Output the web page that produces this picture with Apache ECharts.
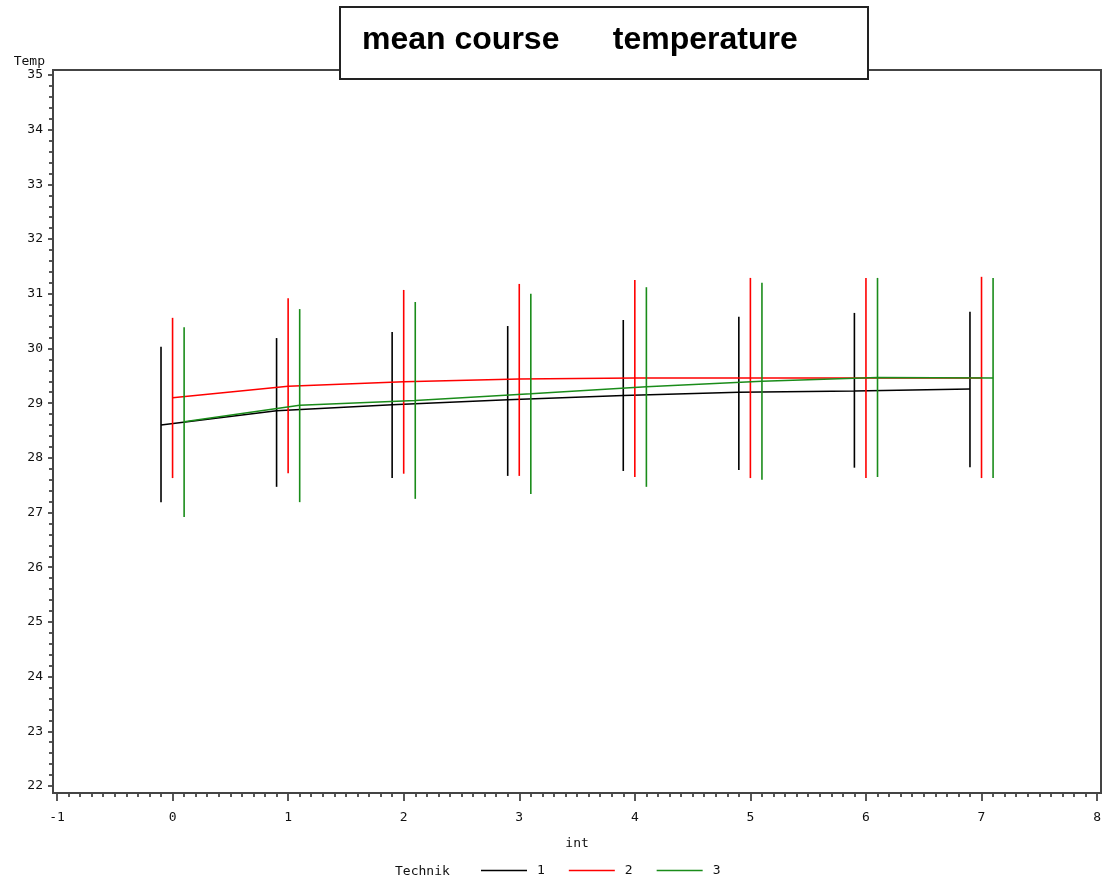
<!DOCTYPE html>
<html><head><meta charset="utf-8">
<script src="https://cdn.jsdelivr.net/npm/echarts@6/dist/echarts.min.js"></script>
<style>html,body{margin:0;padding:0;background:#fff}#c{width:1104px;height:884px}</style>
</head><body><div id="c"></div>
<script>
const intervals = [0, 1, 2, 3, 4, 5, 6, 7];
const techNames = ['1', '2', '3'];
const mean1 = [28.60, 28.86, 28.97, 29.06, 29.14, 29.20, 29.22, 29.26];
const high1 = [30.03, 30.19, 30.30, 30.41, 30.52, 30.58, 30.65, 30.67];
const low1  = [27.19, 27.47, 27.63, 27.67, 27.76, 27.78, 27.82, 27.83];
const mean2 = [29.10, 29.31, 29.39, 29.44, 29.46, 29.46, 29.46, 29.46];
const high2 = [30.56, 30.92, 31.07, 31.18, 31.25, 31.29, 31.29, 31.31];
const low2  = [27.63, 27.72, 27.71, 27.67, 27.65, 27.63, 27.63, 27.63];
const mean3 = [28.66, 28.96, 29.05, 29.17, 29.30, 29.40, 29.47, 29.46];
const high3 = [30.39, 30.72, 30.85, 31.00, 31.12, 31.20, 31.29, 31.29];
const low3  = [26.92, 27.19, 27.25, 27.34, 27.47, 27.60, 27.65, 27.63];
const yTicks = [22,23,24,25,26,27,28,29,30,31,32,33,34,35];
const xTicks = [-1,0,1,2,3,4,5,6,7,8];

const colors = ['#000000', '#ff0000', '#1a8c1a'];
const shifts = [-0.1, 0, 0.1];
const means = [mean1, mean2, mean3];
const highs = [high1, high2, high3];
const lows = [low1, low2, low3];
const FONT = "'DejaVu Sans Mono', monospace";

const series = [];
techNames.forEach((name, k) => {
  series.push({
    name: name, type: 'line', xAxisIndex: 0, yAxisIndex: 0,
    color: colors[k], showSymbol: false, symbol: 'none',
    lineStyle: { width: 1.5, color: colors[k] },
    data: intervals.map((t, i) => [t + shifts[k], means[k][i]]),
    z: 3 + k
  });
  series.push({
    name: name + ' sd', type: 'custom', xAxisIndex: 0, yAxisIndex: 0,
    data: intervals.map((t, i) => [t + shifts[k], lows[k][i], highs[k][i]]),
    encode: { x: 0, y: [1, 2] },
    renderItem: function (params, api) {
      const a = api.coord([api.value(0), api.value(1)]);
      const b = api.coord([api.value(0), api.value(2)]);
      return { type: 'line', shape: { x1: a[0], y1: a[1], x2: b[0], y2: b[1] },
        style: { stroke: colors[k], lineWidth: 1.6 } };
    },
    z: 3 + k
  });
});

const chart = echarts.init(document.getElementById('c'), null, { renderer: 'canvas' });
chart.setOption({
  animation: false,
  backgroundColor: '#ffffff',
  grid: [
    { left: 57, right: 4, top: 75, bottom: 98 },
    { left: 53, top: 70, width: 1048, height: 723, show: true, borderColor: '#444', borderWidth: 2, backgroundColor: 'transparent', z: 10 }
  ],
  xAxis: [
    { type: 'value', gridIndex: 0, min: xTicks[0], max: xTicks[xTicks.length - 1], interval: 1, offset: 7,
      axisLine: { show: false, onZero: false },
      axisTick: { show: true, length: 8, lineStyle: { color: '#222', width: 1.5 } },
      minorTick: { show: true, splitNumber: 10, length: 4, lineStyle: { color: '#222', width: 1.5 } },
      splitLine: { show: false },
      axisLabel: { margin: 18, color: '#111', fontFamily: FONT, fontSize: 13 },
      name: 'int', nameLocation: 'middle', nameGap: 44,
      nameTextStyle: { color: '#111', fontFamily: FONT, fontSize: 13 } },
    { type: 'value', gridIndex: 1, min: 0, max: 1, show: false }
  ],
  yAxis: [
    { type: 'value', gridIndex: 0, min: yTicks[0], max: yTicks[yTicks.length - 1], interval: 1, offset: 4,
      axisLine: { show: false, onZero: false },
      axisTick: { show: true, length: 5, lineStyle: { color: '#222', width: 1.5 } },
      minorTick: { show: true, splitNumber: 5, length: 4, lineStyle: { color: '#222', width: 1.5 } },
      splitLine: { show: false },
      axisLabel: { margin: 10, color: '#111', fontFamily: FONT, fontSize: 13 },
      name: 'Temp', nameLocation: 'end', nameGap: 8,
      nameTextStyle: { color: '#111', fontFamily: FONT, fontSize: 13, align: 'right', verticalAlign: 'middle', padding: [0, 8, 0, 0] } },
    { type: 'value', gridIndex: 1, min: 0, max: 1, show: false }
  ],
  legend: {
    data: techNames, left: 481, top: 864, padding: 0, icon: 'rect', itemWidth: 46, itemHeight: 1.5, itemGap: 24,
    textStyle: { color: '#111', fontFamily: FONT, fontSize: 13, padding: [0, 0, 0, 5] },
    selectedMode: false
  },
  graphic: [
    { type: 'rect', z: 100, shape: { x: 340, y: 7, width: 528, height: 72 },
      style: { fill: '#fff', stroke: '#222', lineWidth: 2 } },
    { type: 'text', z: 101, x: 362, y: 24,
      style: { text: 'mean course      temperature', fill: '#000', font: "bold 32px 'Liberation Sans', Arial, sans-serif", verticalAlign: 'top' } },
    { type: 'text', z: 101, x: 395, y: 872,
      style: { text: 'Technik', fill: '#111', font: "13px 'DejaVu Sans Mono', monospace", verticalAlign: 'middle' } }
  ],
  series: series
});
</script></body></html>
